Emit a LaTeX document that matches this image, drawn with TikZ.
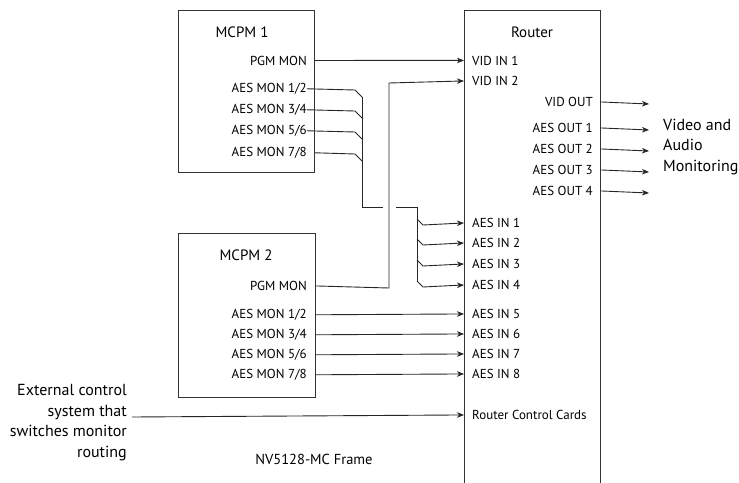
\documentclass[tikz,border=0pt]{standalone}
\usepackage{fontspec}
\setmainfont{PT Sans}
\usetikzlibrary{arrows.meta}
\begin{document}
\begin{tikzpicture}[x=1pt,y=-1pt,
  wire/.style={line width=0.9pt, draw=black!85},
  arr/.style={wire, -{Stealth[length=7pt,width=5.5pt,inset=2pt]}},
  box/.style={draw=black!80, line width=0.9pt, inner sep=0pt, anchor=north west},
  port/.style={font=\fontsize{13}{15}\selectfont, inner sep=0pt},
  ttl/.style={font=\fontsize{15}{17}\selectfont, inner sep=0pt}]
\useasboundingbox (0,0) rectangle (739,482);
\clip (0,0) rectangle (739,482);
% boxes
\node[box, minimum width=136pt, minimum height=162pt] (m1) at (178,10) {};
\node[box, minimum width=137pt, minimum height=164pt] (m2) at (178,233) {};
\node[box, draw=none, minimum width=136pt, minimum height=500pt] (r) at (464,10) {};
\draw[line width=0.9pt, draw=black!80] (r.south west) -- (r.north west) -- (r.north east) -- (r.south east);
% titles
\node[ttl] (m1t) at (242,32) {MCPM 1};
\node[ttl] (m2t) at (246,255) {MCPM 2};
\node[ttl] (rt) at (532,32) {Router};
\node[ttl, font=\fontsize{14.5}{17}\selectfont] (frame) at (314,459) {NV5128-MC Frame};
\node[ttl, align=right, anchor=east, font=\fontsize{16}{20.5}\selectfont] (ext) at (127,422.5)
  {External control\\system that\\switches monitor\\routing};
\node[ttl, align=left, anchor=west, font=\fontsize{16}{20.5}\selectfont] (vam) at (663,147)
  {Video and\\Audio\\Monitoring};
% MCPM1 ports
\node[port, anchor=mid east] (m1p) at (307,62.5) {PGM MON};
\node[port, anchor=mid east] (m1a) at (307,90) {AES MON 1/2};
\node[port, anchor=mid east] (m1b) at (307,111) {AES MON 3/4};
\node[port, anchor=mid east] (m1c) at (307,132) {AES MON 5/6};
\node[port, anchor=mid east] (m1d) at (307,154) {AES MON 7/8};
% MCPM2 ports
\node[port, anchor=mid east] (m2p) at (307,288) {PGM MON};
\node[port, anchor=mid east] (m2a) at (307,316) {AES MON 1/2};
\node[port, anchor=mid east] (m2b) at (307,336) {AES MON 3/4};
\node[port, anchor=mid east] (m2c) at (307,356) {AES MON 5/6};
\node[port, anchor=mid east] (m2d) at (307,376) {AES MON 7/8};
% Router inputs
\node[port, anchor=mid west] (vi1) at (472,62.5) {VID IN 1};
\node[port, anchor=mid west] (vi2) at (472,83) {VID IN 2};
\node[port, anchor=mid west] (ai1) at (472,225) {AES IN 1};
\node[port, anchor=mid west] (ai2) at (472,245) {AES IN 2};
\node[port, anchor=mid west] (ai3) at (472,266) {AES IN 3};
\node[port, anchor=mid west] (ai4) at (472,287) {AES IN 4};
\node[port, anchor=mid west] (ai5) at (472,316) {AES IN 5};
\node[port, anchor=mid west] (ai6) at (472,336) {AES IN 6};
\node[port, anchor=mid west] (ai7) at (472,356) {AES IN 7};
\node[port, anchor=mid west] (ai8) at (472,376) {AES IN 8};
\node[port, anchor=mid west] (rcc) at (472,417) {Router Control Cards};
% Router outputs
\node[port, anchor=mid east] (vo) at (593,104) {VID OUT};
\node[port, anchor=mid east] (ao1) at (593,130) {AES OUT 1};
\node[port, anchor=mid east] (ao2) at (593,151) {AES OUT 2};
\node[port, anchor=mid east] (ao3) at (593,172) {AES OUT 3};
\node[port, anchor=mid east] (ao4) at (593,193) {AES OUT 4};
% free ends
\coordinate (vo-e) at (649,104);
\coordinate (ao1-e) at (649,130);
\coordinate (ao2-e) at (649,151);
\coordinate (ao3-e) at (649,172);
\coordinate (ao4-e) at (649,193);
% outputs
\foreach \n in {vo,ao1,ao2,ao3,ao4}
  \draw[arr] (r.east |- \n) -- (\n-e);
% PGM MON 1 -> VID IN 1
\draw[arr] (m1.east |- m1p) -- (r.west |- vi1);
% PGM MON 2 -> VID IN 2
\draw[arr] (m2.east |- m2p) -- (389,288) -- (389,83) -- (r.west |- vi2);
% MCPM1 AES bus
\draw[wire] (m1a.east) -- (355,90) -- (362,97);
\draw[wire] (m1b.east) -- (355,111) -- (362,118);
\draw[wire] (m1c.east) -- (355,132) -- (362,139);
\draw[wire] (m1.east |- m1d) -- (355,154) -- (362,161);
\draw[wire] (362,97) -- (362,207) -- (383,207);
\draw[wire] (396,207) -- (417,207) -- (417,281);
\draw[arr] (417,219) -- (423,225) -- (r.west |- ai1);
\draw[arr] (417,239) -- (423,245) -- (r.west |- ai2);
\draw[arr] (417,260) -- (423,266) -- (r.west |- ai3);
\draw[arr] (417,281) -- (423,287) -- (r.west |- ai4);
% MCPM2 AES
\draw[arr] (m2.east |- m2a) -- (r.west |- ai5);
\draw[arr] (m2.east |- m2b) -- (r.west |- ai6);
\draw[arr] (m2.east |- m2c) -- (r.west |- ai7);
\draw[arr] (m2.east |- m2d) -- (r.west |- ai8);
% external control
\draw[arr] (132,417) -- (r.west |- rcc);
\end{tikzpicture}
\end{document}
